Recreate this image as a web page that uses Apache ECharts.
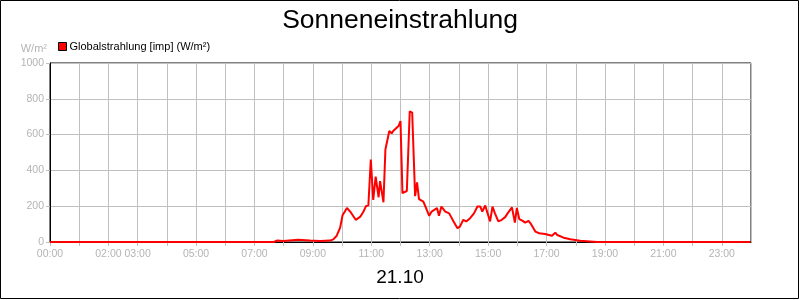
<!DOCTYPE html>
<html>
<head>
<meta charset="utf-8">
<script src="https://cdn.jsdelivr.net/npm/echarts@6/dist/echarts.min.js"></script>
<style>
html,body{margin:0;padding:0;background:#fff;}
#c{width:800px;height:300px;}
</style>
</head>
<body>
<div id="c"></div>
<script>
// ---- data ----
const chartTitle = 'Sonneneinstrahlung';
const dateLabel = '21.10';
const seriesName = 'Globalstrahlung [imp] (W/m²)';
const unitLabel = 'W/m²';
const xTickLabels = ['00:00','02:00','03:00','05:00','07:00','09:00','11:00','13:00','15:00','17:00','19:00','21:00','23:00'];
const yTicks = [0, 200, 400, 600, 800, 1000];

const times = [
  '00:00','07:40','07:46','07:59','08:30','08:54','09:15','09:35','09:42','09:49','09:56',
  '10:01','10:10','10:18','10:28','10:37','10:44','10:49','10:54','10:59','11:04','11:09',
  '11:12','11:15','11:18','11:22','11:25','11:29','11:37','11:42','11:45','11:49','11:56',
  '12:00','12:04','12:13','12:19','12:24','12:30','12:34','12:38','12:42','12:47','12:54',
  '12:59','13:04','13:15','13:19','13:24','13:32','13:40','13:49','13:57','14:02','14:09',
  '14:15','14:23','14:31','14:38','14:44','14:48','14:54','14:57','15:04','15:09','15:14',
  '15:21','15:28','15:35','15:40','15:44','15:49','15:52','15:55','15:59','16:04','16:11',
  '16:16','16:23','16:28','16:37','16:45','16:57','17:11','17:18','17:22','17:35','17:49',
  '18:09','18:30','18:44','23:59'
];
const radiation = [
  0,0,8,5,12,8,6,8,15,35,80,
  150,190,165,124,140,170,200,205,460,235,365,
  355,250,340,330,222,517,620,607,620,630,648,
  676,273,285,730,723,256,333,240,238,226,180,
  146,170,190,146,198,170,160,115,77,86,124,
  115,133,160,198,198,170,204,204,115,198,160,
  115,124,139,160,152,193,190,108,190,128,118,
  108,118,101,58,49,45,35,52,39,24,15,
  7,3,0,0
];

function toMin(s){ const p = s.split(':'); return (+p[0])*60 + (+p[1]); }
function toHHMM(m){ const h = Math.floor(m/60), mm = m%60; return String(h).padStart(2,'0')+':'+String(mm).padStart(2,'0'); }

const seriesData = times.map((t,i) => [toMin(t), radiation[i]]);

const grey = '#b4b4b4';
const gridGrey = '#c0c0c0';
const fontFam = '"Liberation Sans", Arial, sans-serif';

const chart = echarts.init(document.getElementById('c'), null, {renderer:'canvas'});
chart.setOption({
  animation: false,
  backgroundColor: '#fff',
  textStyle: { fontFamily: fontFam },
  title: {
    text: chartTitle,
    left: 'center',
    top: 2,
    textStyle: { fontFamily: fontFam, fontSize: 26.5, fontWeight: 'normal', color: '#000' }
  },
  legend: {
    data: [seriesName],
    left: 53,
    top: 36,
    icon: 'rect',
    itemWidth: 8,
    itemHeight: 8,
    itemGap: 4,
    textStyle: { fontFamily: fontFam, fontSize: 11, color: '#000', padding: [0,0,0,-2] },
    itemStyle: { borderColor: '#000', borderWidth: 1 }
  },
  grid: {
    left: 50, right: 49, top: 63, bottom: 58,
    show: true, borderColor: '#000', borderWidth: 1
  },
  xAxis: {
    type: 'value',
    min: 0, max: 1440, interval: 60,
    axisLine: { show: true, lineStyle: { color: '#000', width: 1 } },
    axisTick: { show: true, length: 4, lineStyle: { color: gridGrey } },
    splitLine: { show: true, lineStyle: { color: gridGrey, width: 1 } },
    axisLabel: {
      color: grey, fontSize: 10.5, fontFamily: fontFam, margin: 7,
      formatter: function(v){ const s = toHHMM(v); return xTickLabels.indexOf(s) >= 0 ? s : ''; },
      showMaxLabel: false
    }
  },
  yAxis: {
    type: 'value',
    min: yTicks[0], max: yTicks[yTicks.length-1], interval: yTicks[1]-yTicks[0],
    axisLine: { show: true, lineStyle: { color: '#000', width: 1 } },
    axisTick: { show: true, length: 4, lineStyle: { color: gridGrey } },
    splitLine: { show: true, lineStyle: { color: gridGrey, width: 1 } },
    axisLabel: { color: grey, fontSize: 10.5, fontFamily: fontFam, margin: 6,
      formatter: function(v){ return String(v); } }
  },
  series: [{
    name: seriesName,
    type: 'line',
    data: seriesData,
    showSymbol: false,
    symbol: 'none',
    lineStyle: { color: '#ff0000', width: 2 },
    itemStyle: { color: '#ff0000' },
    z: 3
  }],
  graphic: [
    {
      type: 'rect',
      shape: { x: 0.5, y: 0.5, width: 798, height: 298 },
      style: { fill: null, stroke: '#000', lineWidth: 1 },
      silent: true, z: 100
    },
    {
      type: 'text',
      x: 47, y: 49,
      style: { text: unitLabel, fill: grey, font: '11px ' + fontFam, textAlign: 'right', textVerticalAlign: 'middle' }
    },
    {
      type: 'text',
      x: 400, y: 278,
      style: { text: dateLabel, fill: '#000', font: '19px ' + fontFam, textAlign: 'center', textVerticalAlign: 'middle' }
    }
  ]
});
</script>
</body>
</html>
